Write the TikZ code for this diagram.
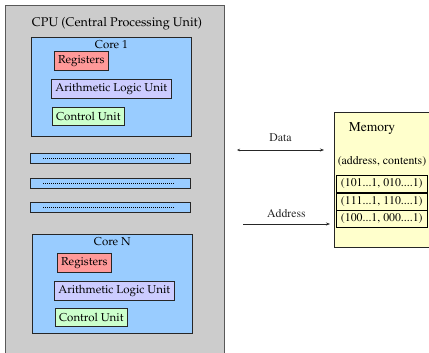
\documentclass[tikz,border=0pt]{standalone}
\usepackage[T1]{fontenc}
\usepackage{mathpazo}
\usetikzlibrary{positioning,arrows.meta}

\definecolor{cpugray}{RGB}{204,204,204}
\definecolor{coreblue}{RGB}{153,204,255}
\definecolor{regred}{RGB}{255,153,153}
\definecolor{alupurple}{RGB}{204,204,255}
\definecolor{cugreen}{RGB}{204,255,204}
\definecolor{memyellow}{RGB}{255,255,204}

\newcommand{\unitfont}{\fontsize{11.5}{13}\selectfont}
\newcommand{\memfont}{\fontfamily{ptm}\fontsize{11.8}{13}\selectfont}

\begin{document}
\begin{tikzpicture}
    [x=1pt,y=-1pt,
    every node/.style={inner sep=0pt,font=\unitfont},
    box/.style={draw=black!85,line width=0.6pt,anchor=north west},
    corebox/.style={box,fill=coreblue,minimum width=160pt,minimum height=99pt},
    regbox/.style={box,fill=regred,minimum width=54pt,minimum height=19pt},
    alubox/.style={box,fill=alupurple,minimum width=120pt,minimum height=19pt},
    cubox/.style={box,fill=cugreen,minimum width=72pt,minimum height=18pt},
    barbox/.style={box,fill=coreblue,minimum width=160pt,minimum height=10pt},
    cellbox/.style={draw=black,line width=0.6pt,minimum width=91pt,minimum height=17pt,font=\memfont},
    bus/.style={line width=0.7pt,black!85},
    ]

    \clip (0,0) rectangle (429,353);

    % processor with its cores
    \node[box,draw=black!65,line width=1.2pt,fill=cpugray,minimum width=219pt,minimum height=360pt] (cpu) at (5,5) {};
    \node[font=\fontsize{12.6}{14}\selectfont] (cputitle) at (117,24) {CPU (Central Processing Unit)};

    \node[corebox] (core1) at (31,37) {};
    \node[below=3pt of core1.north] (core1title) {Core 1};
    \node[regbox] (reg1) at (54,51) {Registers};
    \node[alubox] (alu1) at (51,79) {Arithmetic Logic Unit};
    \node[cubox] (cu1) at (52,107) {Control Unit};

    % the cores in between
    \foreach \i/\y in {1/153,2/178,3/202}{
        \node[barbox] (bar\i) at (30,\y) {};
        \draw[line width=0.4pt,dash pattern=on 0.6pt off 1.4pt] ([xshift=13pt]bar\i.west) -- ([xshift=-17pt]bar\i.east);
    }

    \node[corebox] (coren) at (32,234) {};
    \node[below=3pt of coren.north] (corentitle) {Core N};
    \node[regbox] (regn) at (57,253) {Registers};
    \node[alubox] (alun) at (54,281) {Arithmetic Logic Unit};
    \node[cubox] (cun) at (55,308) {Control Unit};

    % memory
    \node[box,fill=memyellow,minimum width=110pt,minimum height=135pt] (mem) at (334,112) {};
    \node[font=\fontfamily{ptm}\fontsize{13.5}{15}\selectfont] (memtitle) at (372,129) {Memory};
    \node[font=\memfont] (memhead) at (382,162) {(address, contents)};
    \node[cellbox,anchor=north west] (cell1) at (336,175) {(101...1, 010....1)};
    \node[cellbox,below=0pt of cell1] (cell2) {(111...1, 110....1)};
    \node[cellbox,below=0pt of cell2] (cell3) {(100...1, 000....1)};

    % buses
    \coordinate (datal) at (237,150);
    \coordinate (datar) at (324,150);
    \coordinate (addrl) at (243,224);
    \coordinate (addrr) at (330,224);
    \draw[bus,{Stealth[length=3pt,width=2.5pt]}-{Stealth[length=4pt,width=3pt]}] (datal) -- (datar)
        node[midway,above=8pt,font=\memfont] (datalabel) {Data};
    \draw[bus,-{Stealth[length=4pt,width=3pt]}] (addrl) -- (addrr)
        node[midway,above=6pt,font=\memfont] (addrlabel) {Address};
\end{tikzpicture}
\end{document}
